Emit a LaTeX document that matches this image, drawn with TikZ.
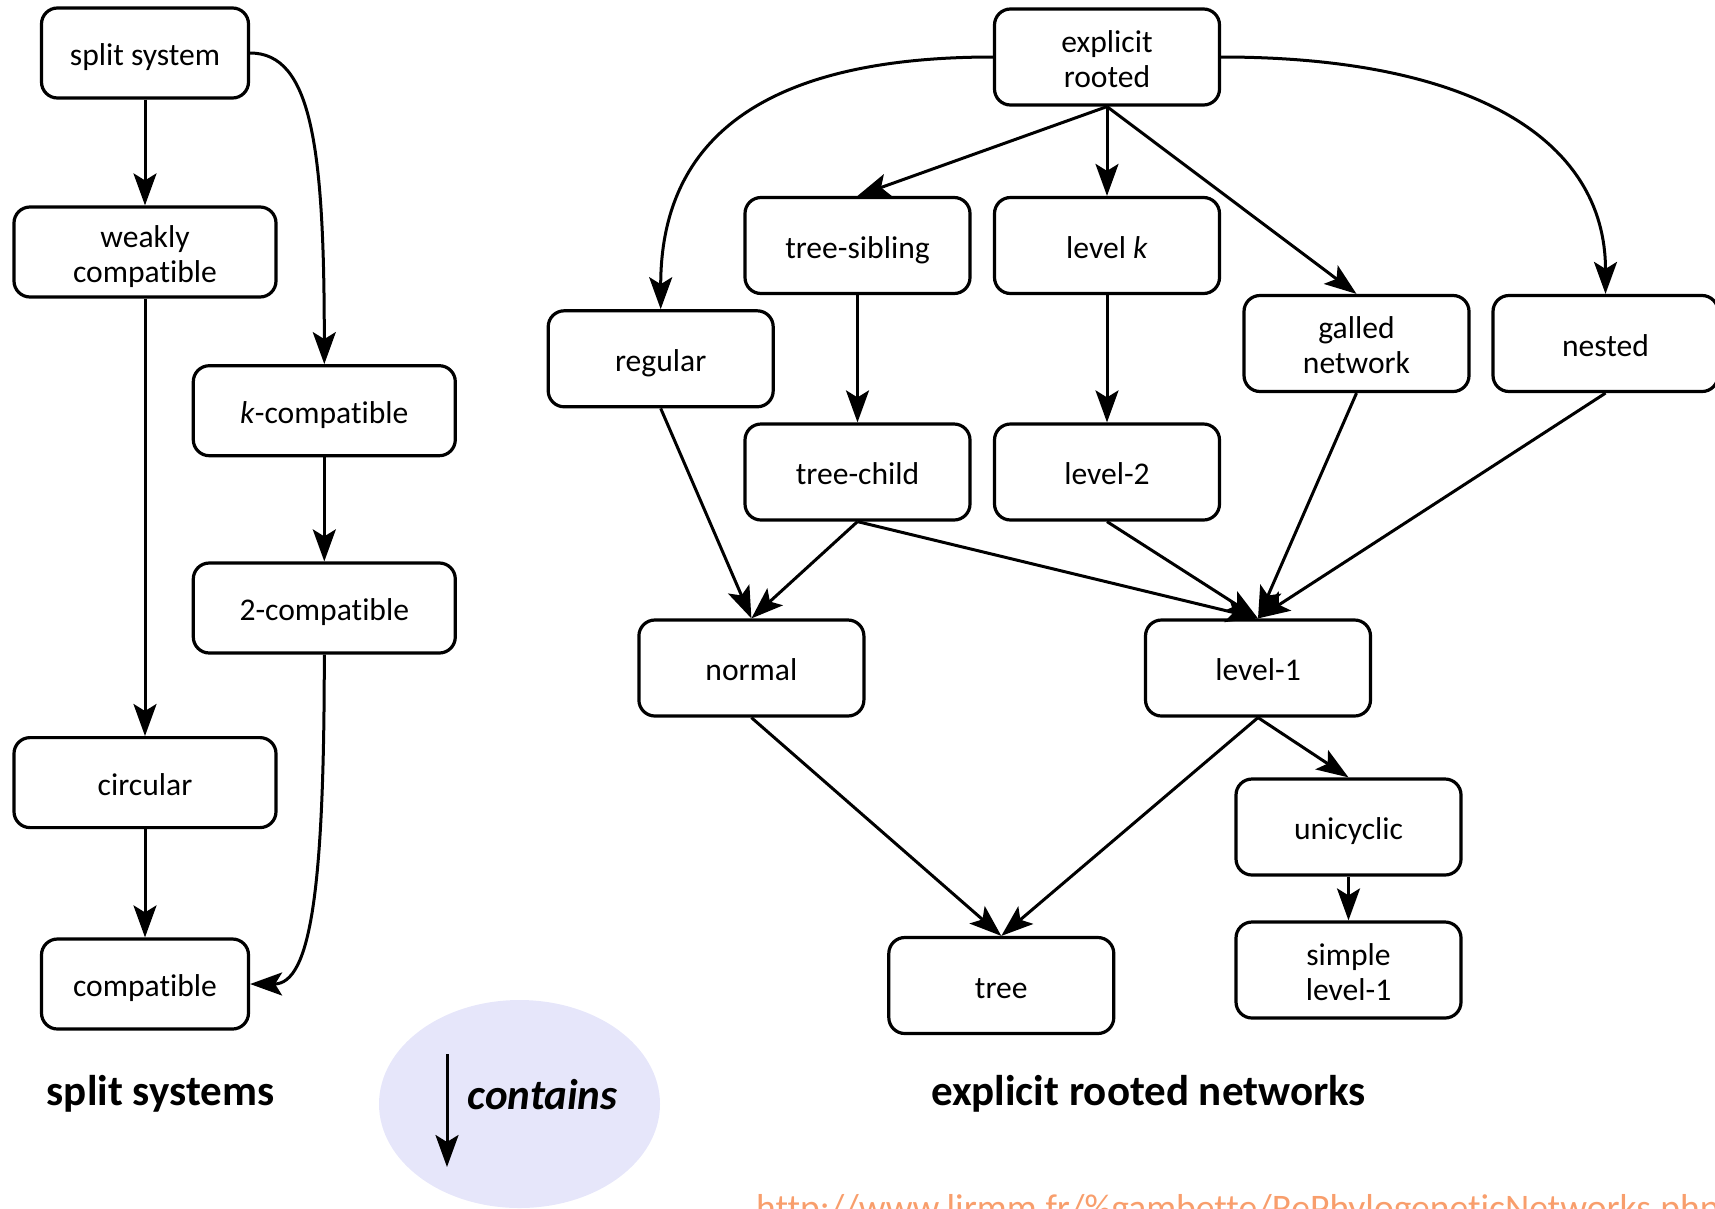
\documentclass[tikz,border=0pt]{standalone}
\usepackage{fontspec}
\setmainfont{Carlito}[Ligatures=NoCommon]
\usetikzlibrary{arrows.meta,shapes.geometric}
\definecolor{haze}{RGB}{230,230,250}
\definecolor{linkorange}{RGB}{248,158,108}
\begin{document}
\begin{tikzpicture}[x=1pt,y=-1pt,
  box/.style={draw, line width=3.2pt, rounded corners=16pt, inner sep=0pt,
    align=center, font=\fontsize{31.6}{35}\selectfont,
    text height=30pt, text depth=5pt},
  two/.style={text height=65pt, text depth=5pt},
  nbox/.style={box, minimum width=207pt, minimum height=90pt},
  lbox/.style={box, minimum width=262pt, minimum height=90pt},
  rbox/.style={box, minimum width=225pt, minimum height=96pt},
  arr/.style={line width=3pt, -{Stealth[length=32pt,width=23pt,inset=7pt]}},
  heading/.style={inner sep=0pt, font=\fontsize{43}{50}\selectfont\bfseries}
]
\useasboundingbox (0,0) rectangle (1715,1208);

% split systems
\node[nbox] (split) at (145,53) {split system};
\node[lbox, two] (weak) at (145,252) {weakly\\compatible};
\node[lbox] (kcomp) at (324.3,410.7) {\textit{k}-compatible};
\node[lbox] (twoc)  at (324.3,608) {2-compatible};
\node[lbox] (circ)  at (145,782.6) {circular};
\node[nbox] (comp)  at (145,984) {compatible};

\draw[arr] (split.south) -- (weak.north);
\draw[arr] (weak.south) -- (circ.north);
\draw[arr] (circ.south) -- (comp.north);
\draw[arr] (kcomp.south) -- (twoc.north);
\draw[arr] (split.east) .. controls +(61,0) and +(0,-219) .. (kcomp.north);
\draw[arr] (twoc.south) .. controls +(0,232) and +(61,0) .. (comp.east);

% explicit rooted networks
\node[rbox, two] (expl) at (1107,57)    {explicit\\rooted};
\node[rbox] (tsib)    at (857.5,245.5)  {tree-sibling};
\node[rbox] (levk)    at (1107,245.5)   {level \textit{k}};
\node[rbox, two] (galled) at (1356.5,343.5) {galled\\network};
\node[rbox] (nested)  at (1605.5,343.5) {nested};
\node[rbox] (regular) at (660.7,358.8)  {regular};
\node[rbox] (tchild)  at (857.5,472)    {tree-child};
\node[rbox] (lev2)    at (1107,472)     {level-2};
\node[rbox] (normal)  at (751.4,668)    {normal};
\node[rbox] (lev1)    at (1258,668)     {level-1};
\node[rbox] (unicyc)  at (1348.5,827)   {unicyclic};
\node[rbox, two] (simple) at (1348.5,970) {simple\\level-1};
\node[rbox] (tree)    at (1001.3,985.5) {tree};

\draw[arr] (expl.west) .. controls +(-226,0) and +(0,-173) .. (regular.north);
\draw[arr] (expl.east) .. controls +(250,0) and +(0,-155) .. (nested.north);
\draw[arr] (expl.south) -- (tsib.north);
\draw[arr] (expl.south) -- (levk.north);
\draw[arr] (expl.south) -- (galled.north);
\draw[arr] (tsib.south) -- (tchild.north);
\draw[arr] (levk.south) -- (lev2.north);
\draw[arr] (regular.south) -- (normal.north);
\draw[arr] (tchild.south) -- (normal.north);
\draw[arr] (tchild.south) -- (lev1.north);
\draw[arr] (lev2.south) -- (lev1.north);
\draw[arr] (galled.south) -- (lev1.north);
\draw[arr] (nested.south) -- (lev1.north);
\draw[arr] (normal.south) -- (tree.north);
\draw[arr] (lev1.south) -- (tree.north);
\draw[arr] (lev1.south) -- (unicyc.north);
\draw[arr] (unicyc.south) -- (simple.north);

% headings
\node[heading] (splithead) at (160.5,1093.8) {split systems};
\node[heading] (explhead)  at (1148.4,1093.8) {explicit rooted networks};

% legend
\node[ellipse, fill=haze, minimum width=281pt, minimum height=208pt, inner sep=0pt] (legend) at (519.5,1104) {};
\coordinate (legtop) at (447,1054);
\coordinate (legbot) at (447,1167);
\draw[arr] (legtop) -- (legbot);
\node[inner sep=0pt, font=\fontsize{43}{50}\selectfont\bfseries\itshape] (contains) at (542.5,1095) {contains};

% link
\node[anchor=base west, inner sep=0pt, text=linkorange, font=\fontsize{37.5}{40}\selectfont] (url) at (756,1220)
  {http://www.lirmm.fr/\%gambette/RePhylogeneticNetworks.php};
\end{tikzpicture}
\end{document}
